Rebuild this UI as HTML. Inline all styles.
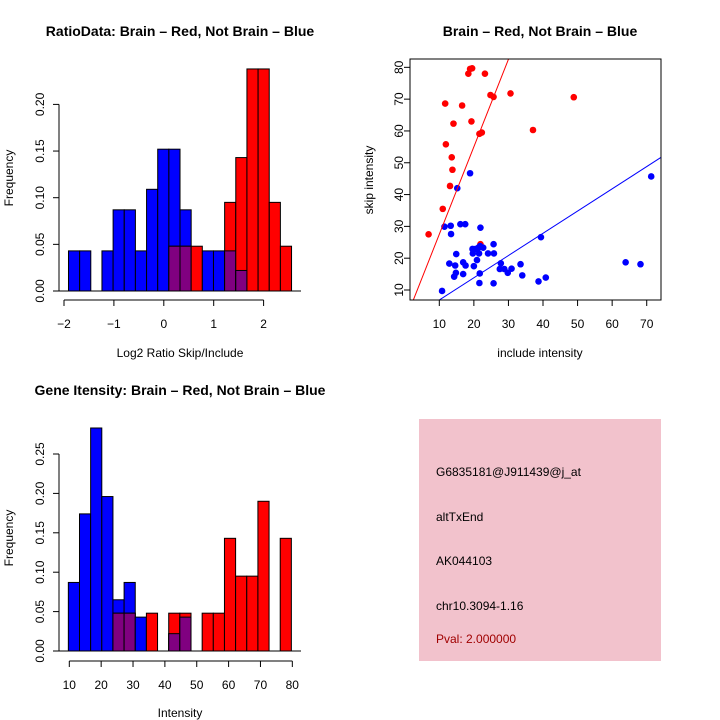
<!DOCTYPE html>
<html><head><meta charset="utf-8"><style>
body{margin:0;background:#fff}
svg{display:block;font-family:"Liberation Sans",sans-serif}
</style></head><body>
<svg id="s" width="720" height="720" xmlns="http://www.w3.org/2000/svg">
<rect width="720" height="720" fill="#fff"/>
<text x="180" y="36" text-anchor="middle" font-size="14" font-weight="bold">RatioData: Brain – Red, Not Brain – Blue</text>
<text x="540" y="36" text-anchor="middle" font-size="14" font-weight="bold">Brain – Red, Not Brain – Blue</text>
<text x="180" y="395" text-anchor="middle" font-size="14" font-weight="bold">Gene Itensity: Brain – Red, Not Brain – Blue</text>
<g id="h1"></g>
<g id="sc"></g>
<g id="h2"></g>
<g>
<rect x="419" y="419" width="242" height="242" fill="#f2c2cc"/>
<text x="436" y="476" font-size="12">G6835181@J911439@j_at</text>
<text x="436" y="521" font-size="12">altTxEnd</text>
<text x="436" y="565" font-size="12">AK044103</text>
<text x="436" y="610" font-size="12">chr10.3094-1.16</text>
<text x="436" y="643" font-size="12" fill="#a00000">Pval: 2.000000</text>
</g>
</svg>
<script>
// Ratio histogram data
const ratioBlue=[0.043,0.043,0,0.043,0.087,0.087,0.043,0.109,0.152,0.152,0.087,0,0.043,0.043,0.043,0.022,0,0,0,0];
const ratioRed=[0,0,0,0,0,0,0,0,0,0.048,0.048,0.048,0,0,0.095,0.143,0.238,0.238,0.095,0.048];
const ratioStart=-1.91, ratioWidth=0.2235;
const ratioXTicks=[-2,-1,0,1,2];
const ratioYTicks=[0,0.05,0.10,0.15,0.20];
const ratioYLabels=["0.00","0.05","0.10","0.15","0.20"];
// Intensity histogram data
const intBlue=[0.087,0.174,0.283,0.196,0.065,0.087,0.043,0,0,0.022,0.043,0,0,0,0,0,0,0,0,0];
const intRed=[0,0,0,0,0.048,0.048,0,0.048,0,0.048,0.048,0,0.048,0.048,0.143,0.095,0.095,0.19,0,0.143];
const intStart=9.7, intWidth=3.5;
const intXTicks=[10,20,30,40,50,60,70,80];
const intYTicks=[0,0.05,0.10,0.15,0.20,0.25];
const intYLabels=["0.00","0.05","0.10","0.15","0.20","0.25"];
// Scatter data
const redX=[6.9,11.7,18.9,19.5,18.4,23.2,24.8,25.7,30.6,48.9,16.6,14.1,19.3,11.9,21.6,22.3,37.1,13.6,13.8,13.1,11,21.9];
const redY=[27.5,68.6,79.5,79.7,78,78,71.3,70.7,71.8,70.6,68,62.3,63,55.8,59.1,59.5,60.3,51.7,47.8,42.7,35.5,24.4];
const blueX=[18.9,15.2,71.3,11.5,13.3,13.4,16.1,17.5,21.9,39.4,14.9,19.6,20.5,21.4,22.7,21.8,19.7,21.5,24.1,25.7,25.8,20.9,12.9,14.6,16.9,17.6,20,27.8,27.5,28.8,29.8,30.9,33.5,14.8,14.3,16.9,21.7,21.6,25.7,34,38.7,40.8,10.8,63.9,68.2];
const blueY=[46.7,42,45.7,29.9,30.2,27.6,30.7,30.7,29.6,26.6,21.3,22.9,22.9,23.4,23.3,23.8,21.5,21.5,21.5,24.4,21.5,19.4,18.3,17.7,18.7,17.7,17.5,18.4,16.6,16.6,15.4,16.7,18.1,15.4,14.2,15,15.2,12.2,12.1,14.6,12.7,13.9,9.7,18.7,18.1];
const redSlope=2.75, redIntercept=0.02, blueSlope=0.699, blueIntercept=-0.13;
const scXTicks=[10,20,30,40,50,60,70];
const scYTicks=[10,20,30,40,50,60,70,80];

const NS="http://www.w3.org/2000/svg";
function mk(p,t,a){const e=document.createElementNS(NS,t);for(const k in a)e.setAttribute(k,a[k]);p.appendChild(e);return e;}

function hist(g,blue,red,start,w,xs,ys,ylabs,o){
  const X=v=>o.x0+(v-o.xv0)*o.kx, Y=v=>o.y0-v*o.ky;
  for(let i=0;i<blue.length;i++){
    const a=start+i*w,b=a+w;
    const bh=blue[i],rh=red[i],m=Math.min(bh,rh);
    if(bh>0){const r=mk(g,'rect',{x:X(a),y:Y(bh),width:X(b)-X(a),height:Y(0)-Y(bh),fill:'#0000ff',stroke:'#000','stroke-width':1});
      
      }
    if(rh>0){const r=mk(g,'rect',{x:X(a),y:Y(rh),width:X(b)-X(a),height:Y(0)-Y(rh),fill:'#ff0000',stroke:'#000','stroke-width':1});
      
      }
    if(m>0){const r=mk(g,'rect',{x:X(a),y:Y(m),width:X(b)-X(a),height:Y(0)-Y(m),fill:'#800080',stroke:'#000','stroke-width':1});
      
      }
  }
  mk(g,'line',{x1:o.yaxX,y1:Y(0),x2:o.baseEnd,y2:Y(0),stroke:'#000'});
  // x axis
  mk(g,'line',{x1:X(xs[0]),y1:o.xaxY,x2:X(xs[xs.length-1]),y2:o.xaxY,stroke:'#000'});
  xs.forEach(v=>{mk(g,'line',{x1:X(v),y1:o.xaxY,x2:X(v),y2:o.xaxY+6,stroke:'#000'});
    const t=mk(g,'text',{x:X(v),y:o.xaxY+28,'text-anchor':'middle','font-size':12});t.textContent=String(v).replace('-','−');
    
    });
  // y axis
  mk(g,'line',{x1:o.yaxX,y1:Y(ys[0]),x2:o.yaxX,y2:Y(ys[ys.length-1]),stroke:'#000'});
  ys.forEach((v,i)=>{mk(g,'line',{x1:o.yaxX-6,y1:Y(v),x2:o.yaxX,y2:Y(v),stroke:'#000'});
    const t=mk(g,'text',{x:0,y:0,'text-anchor':'middle','font-size':12,transform:`translate(44,${Y(v)}) rotate(-90)`});t.textContent=ylabs[i];
    
    });
  const yt=mk(g,'text',{'text-anchor':'middle','font-size':12,transform:`translate(13,${o.ylabY}) rotate(-90)`});yt.textContent='Frequency';
  
  
  const xt=mk(g,'text',{x:o.xlabX,y:o.xlabY,'text-anchor':'middle','font-size':12});xt.textContent=o.xlab;
  
  
}
hist(document.getElementById('h1'),ratioBlue,ratioRed,ratioStart,ratioWidth,ratioXTicks,ratioYTicks,ratioYLabels,
 {x0:64,xv0:-2,kx:49.9,y0:291,ky:933,yaxX:59,baseEnd:301,xaxY:300,ylabY:178,xlabX:180,xlabY:357,xlab:'Log2 Ratio Skip/Include'});
hist(document.getElementById('h2'),intBlue,intRed,intStart,intWidth,intXTicks,intYTicks,intYLabels,
 {x0:69.3,xv0:10,kx:3.186,y0:651,ky:788,yaxX:59,baseEnd:301,xaxY:661,ylabY:538,xlabX:180,xlabY:717,xlab:'Intensity'});

(function(){
  const g=document.getElementById('sc');
  const X=v=>439.3+(v-10)*3.457, Y=v=>290-(v-10)*3.181;
  const L=410,R=661,T=59,B=300;
  mk(g,'defs',{}).innerHTML='<clipPath id="cp"><rect x="410" y="59" width="251" height="241"/></clipPath>';
  const cg=mk(g,'g',{'clip-path':'url(#cp)'});
  redX.forEach((x,i)=>{const c=mk(cg,'circle',{cx:X(x),cy:Y(redY[i]),r:3.3,fill:'#ff0000'});
    
    });
  blueX.forEach((x,i)=>{const c=mk(cg,'circle',{cx:X(x),cy:Y(blueY[i]),r:3.3,fill:'#0000ff'});
    
    });
  const rl=mk(cg,'line',{x1:X(0),y1:Y(redIntercept),x2:X(40),y2:Y(redIntercept+redSlope*40),stroke:'#ff0000'});
  
  
  const bl=mk(cg,'line',{x1:X(0),y1:Y(blueIntercept),x2:X(80),y2:Y(blueIntercept+blueSlope*80),stroke:'#0000ff'});
  
  
  mk(g,'rect',{x:L,y:T,width:R-L,height:B-T,fill:'none',stroke:'#000'});
  scXTicks.forEach(v=>{mk(g,'line',{x1:X(v),y1:B,x2:X(v),y2:B+6,stroke:'#000'});
    const t=mk(g,'text',{x:X(v),y:B+28,'text-anchor':'middle','font-size':12});t.textContent=v;
    
    });
  scYTicks.forEach(v=>{mk(g,'line',{x1:L-6,y1:Y(v),x2:L,y2:Y(v),stroke:'#000'});
    const t=mk(g,'text',{'text-anchor':'middle','font-size':12,transform:`translate(403,${Y(v)}) rotate(-90)`});t.textContent=v;
    
    });
  const yt=mk(g,'text',{'text-anchor':'middle','font-size':12,transform:`translate(373,180) rotate(-90)`});yt.textContent='skip intensity';
  
  
  const xt=mk(g,'text',{x:540,y:357,'text-anchor':'middle','font-size':12});xt.textContent='include intensity';
  
  
})();
</script>
</body></html>
